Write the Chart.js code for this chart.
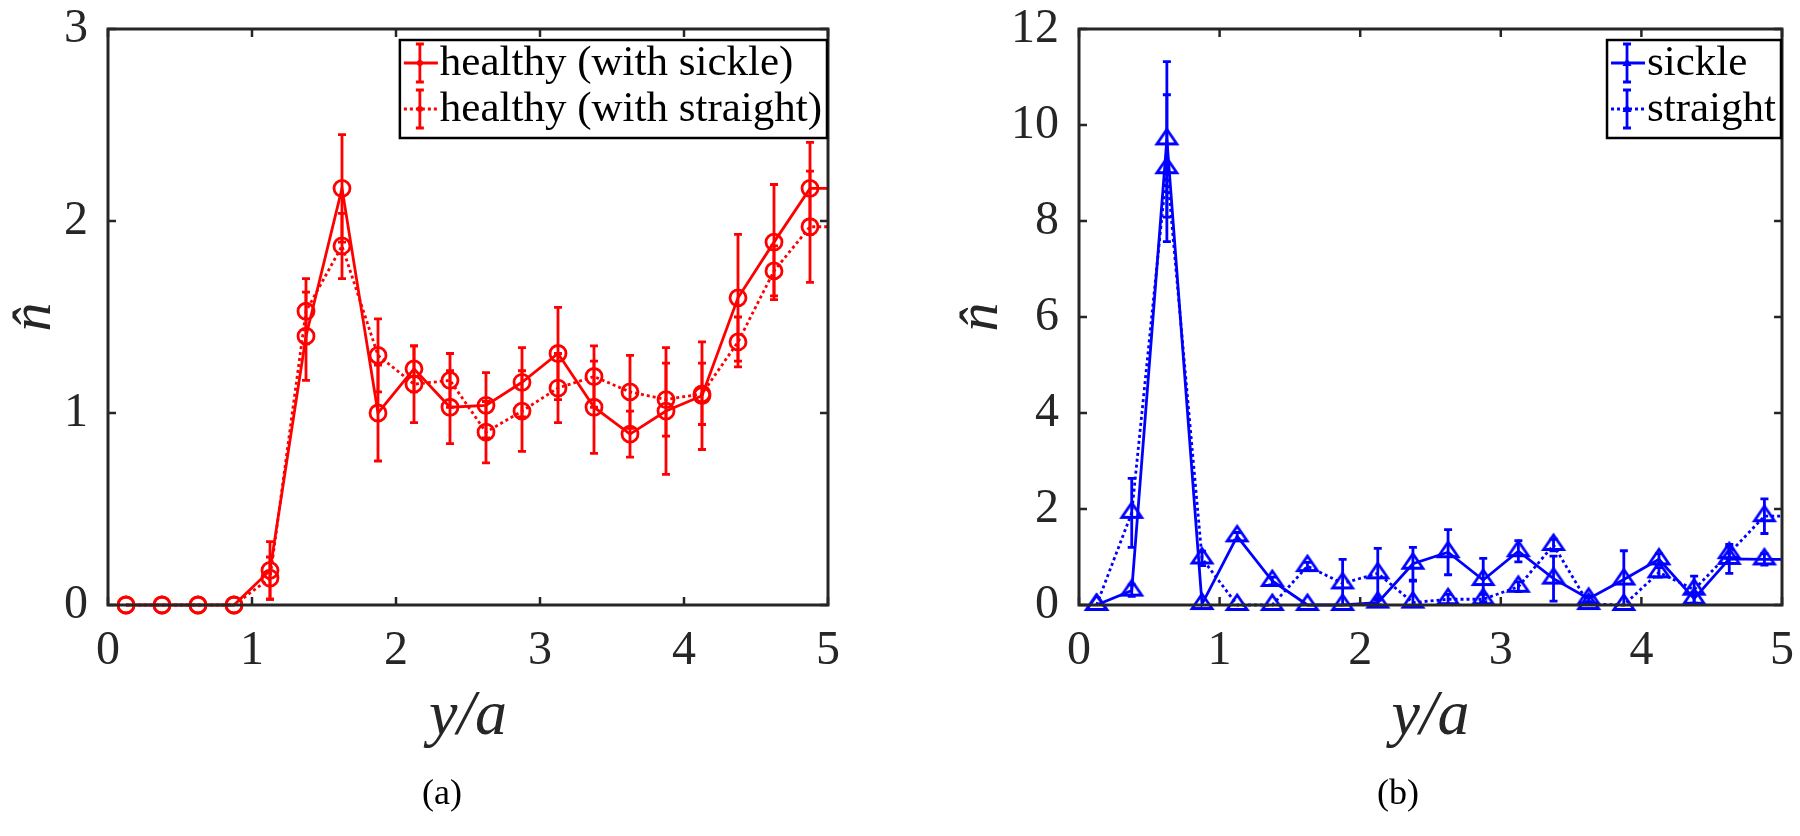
<!DOCTYPE html>
<html><head><meta charset="utf-8">
<script src="https://cdn.jsdelivr.net/npm/chart.js@4"></script>
<style>
html,body{margin:0;padding:0;background:#fff;overflow:hidden;width:1800px;height:836px}
.panel{position:absolute;top:0;width:900px;height:836px}
.cap{position:absolute;font-family:'Liberation Serif','Times New Roman',Times,serif;font-size:36px;line-height:40px;color:#000;transform:translateX(-50%);white-space:nowrap}
</style></head><body>
<div class="panel" style="left:0"><canvas id="c1"></canvas></div>
<div class="panel" style="left:900px"><canvas id="c2"></canvas></div>
<div class="cap" style="left:442px;top:772px">(a)</div>
<div class="cap" style="left:1398px;top:772px">(b)</div>
<script>
// ---- data ----
const yOverA = [0.125,0.375,0.625,0.875,1.125,1.375,1.625,1.875,2.125,2.375,2.625,2.875,3.125,3.375,3.625,3.875,4.125,4.375,4.625,4.875,5.125];
const healthySickle      = [0,0,0,0,0.18,1.40,2.17,1.00,1.23,1.03,1.04,1.16,1.31,1.03,0.89,1.01,1.09,1.60,1.89,2.17,2.17];
const healthySickleErr   = [0,0,0,0,0.15,0.23,0.28,0.25,0.12,0.19,0.17,0.18,0.24,0.24,0.12,0.33,0.28,0.33,0.30,0.24,0];
const healthyStraight    = [0,0,0,0,0.14,1.53,1.87,1.30,1.15,1.17,0.90,1.01,1.13,1.19,1.11,1.07,1.10,1.37,1.74,1.97,1.97];
const healthyStraightErr = [0,0,0,0,0.11,0.17,0.17,0.19,0.20,0.14,0.16,0.21,0.18,0.16,0.19,0.19,0.16,0.13,0.13,0.29,0];
const sickle      = [0,0.30,9.70,0.02,1.43,0.50,0,0,0.05,0.86,1.10,0.52,1.12,0.55,0.13,0.53,0.95,0.13,0.96,0.95,0.95];
const sickleErr   = [0,0.12,1.62,0,0.08,0.08,0,0,0.05,0.34,0.47,0.45,0.22,0.47,0.06,0.60,0.12,0.12,0.30,0.12,0];
const straight    = [0,1.92,9.10,0.97,0,0,0.81,0.45,0.66,0.05,0.12,0.12,0.38,1.25,0.02,0,0.68,0.32,1.08,1.85,1.85];
const straightErr = [0,0.72,1.53,0.15,0,0,0.08,0.50,0.52,0.45,0.10,0.10,0.10,0.12,0,0,0.10,0.28,0.12,0.36,0];
const xTicksMax = 5;
const leftYMax = 3, leftYStep = 1;
const rightYMax = 12, rightYStep = 2;
const legendA = ['healthy (with sickle)', 'healthy (with straight)'];
const legendB = ['sickle', 'straight'];

// ---- helpers ----
const AX = '#262626';
const FAM = "'Liberation Serif', 'Times New Roman', Times, serif";
const LW = 2.8;
const pts = (xs, ys) => xs.map((x, i) => ({x, y: ys[i]}));

function triImage(color) {
  const c = document.createElement('canvas'); c.width = 30; c.height = 30;
  const g = c.getContext('2d'); g.strokeStyle = color; g.lineWidth = LW; g.lineJoin = 'miter';
  g.beginPath(); g.moveTo(15, 15 - 10); g.lineTo(25, 19.5); g.lineTo(5, 19.5); g.closePath(); g.stroke();
  return c;
}

const errorBars = {
  id: 'errorBars',
  afterDatasetsDraw(chart) {
    const {ctx, chartArea: a, scales: {x, y}} = chart;
    ctx.save();
    ctx.beginPath(); ctx.rect(a.left, a.top, a.right - a.left, a.bottom - a.top); ctx.clip();
    chart.data.datasets.forEach(ds => {
      if (!ds.errors) return;
      ctx.strokeStyle = ds.borderColor; ctx.lineWidth = LW; ctx.setLineDash([]); ctx.lineCap = 'butt';
      ds.data.forEach((p, j) => {
        const e = ds.errors[j]; if (!e) return;
        const px = x.getPixelForValue(p.x);
        const y1 = y.getPixelForValue(p.y - e), y2 = y.getPixelForValue(p.y + e);
        const c = 4;
        ctx.beginPath();
        ctx.moveTo(px, y1); ctx.lineTo(px, y2);
        ctx.moveTo(px - c, y1); ctx.lineTo(px + c, y1);
        ctx.moveTo(px - c, y2); ctx.lineTo(px + c, y2);
        ctx.stroke();
      });
    });
    ctx.restore();
  }
};

const frame = {
  id: 'frame',
  afterDraw(chart) {
    const {ctx, chartArea: a, scales: {x, y}} = chart;
    ctx.save();
    ctx.strokeStyle = AX; ctx.lineWidth = 2.5; ctx.setLineDash([]);
    const L = 8;
    ctx.beginPath();
    x.ticks.forEach(t => {
      const px = x.getPixelForValue(t.value);
      ctx.moveTo(px, a.bottom); ctx.lineTo(px, a.bottom - L);
      ctx.moveTo(px, a.top); ctx.lineTo(px, a.top + L);
    });
    y.ticks.forEach(t => {
      const py = y.getPixelForValue(t.value);
      ctx.moveTo(a.left, py); ctx.lineTo(a.left + L, py);
      ctx.moveTo(a.right, py); ctx.lineTo(a.right - L, py);
    });
    ctx.stroke();
    ctx.lineWidth = 3;
    ctx.strokeRect(a.left, a.top, a.right - a.left, a.bottom - a.top);
    ctx.restore();
  }
};

function legendPlugin(labels, marker) {
  return {
    id: 'boxLegend',
    afterDraw(chart) {
      const {ctx, chartArea: a} = chart;
      const ds = chart.data.datasets;
      ctx.save();
      ctx.font = '43px ' + FAM;
      const tw = Math.max(...labels.map(l => ctx.measureText(l).width));
      const w = 40 + tw + 5, h = 98;
      const right = a.right - 1, left = right - w, top = a.top + 11;
      ctx.fillStyle = '#fff';
      ctx.fillRect(left, top, w, h);
      ctx.strokeStyle = '#000'; ctx.lineWidth = 2.5;
      ctx.strokeRect(left, top, w, h);
      labels.forEach((lab, i) => {
        const cy = top + 23 + i * 46;
        const col = ds[i].borderColor;
        ctx.strokeStyle = col; ctx.fillStyle = col; ctx.lineWidth = LW;
        ctx.setLineDash(ds[i].borderDash || []);
        ctx.beginPath(); ctx.moveTo(left + 4, cy); ctx.lineTo(left + 38, cy); ctx.stroke();
        ctx.setLineDash([]);
        const ex = left + 20;
        ctx.beginPath();
        ctx.moveTo(ex, cy - 19); ctx.lineTo(ex, cy + 19);
        ctx.moveTo(ex - 4, cy - 19); ctx.lineTo(ex + 4, cy - 19);
        ctx.moveTo(ex - 4, cy + 19); ctx.lineTo(ex + 4, cy + 19);
        ctx.stroke();
        ctx.beginPath();
        if (marker === 'circle') { ctx.arc(ex, cy, 3, 0, Math.PI * 2); }
        else { ctx.moveTo(ex, cy - 5); ctx.lineTo(ex + 4.5, cy + 3); ctx.lineTo(ex - 4.5, cy + 3); ctx.closePath(); }
        ctx.fill();
        ctx.fillStyle = '#000';
        ctx.textBaseline = 'middle'; ctx.textAlign = 'left';
        ctx.fillText(lab, left + 40, cy + 1);
      });
      ctx.restore();
    }
  };
}

function makeDataset(label, ys, errs, color, dotted, style, radius) {
  return {
    label, data: pts(yOverA, ys), errors: errs,
    borderColor: color, backgroundColor: 'rgba(0,0,0,0)',
    borderWidth: LW, borderDash: dotted ? [3, 3] : [],
    pointStyle: style, pointRadius: radius, pointHoverRadius: radius,
    pointBorderWidth: LW, pointBackgroundColor: 'rgba(0,0,0,0)', pointBorderColor: color,
    tension: 0, fill: false,
    clip: {left: false, top: false, right: 0, bottom: false}
  };
}

function makeChart(id, datasets, yMax, yStep, yWidth, padRight, yTitlePad, labels, marker) {
  return new Chart(document.getElementById(id), {
    type: 'line',
    data: {datasets},
    options: {
      responsive: true, maintainAspectRatio: false, animation: false,
      layout: {padding: {left: 0, top: 29, right: padRight, bottom: 0}},
      plugins: {legend: {display: false}, tooltip: {enabled: false}},
      scales: {
        x: {
          type: 'linear', min: 0, max: xTicksMax,
          grid: {display: false}, border: {display: false},
          ticks: {stepSize: 1, color: AX, padding: 0, font: {family: FAM, size: 48, lineHeight: 1.6}, maxRotation: 0},
          title: {display: true, text: 'y/a', color: AX, font: {family: FAM, size: 64, style: 'italic'}, padding: {top: 0, bottom: 80}},
          afterFit(s) { s.height = 231; }
        },
        y: {
          type: 'linear', min: 0, max: yMax,
          grid: {display: false}, border: {display: false},
          ticks: {stepSize: yStep, color: AX, padding: 12, font: {family: FAM, size: 48, lineHeight: 0.7}},
          title: {display: true, text: 'n\u0302', color: AX, font: {family: FAM, size: 58, style: 'italic'}, padding: {top: yTitlePad, bottom: 0}},
          afterFit(s) { s.width = yWidth; }
        }
      }
    },
    plugins: [errorBars, frame, legendPlugin(labels, marker)]
  });
}

Chart.defaults.font.family = FAM;

const charts = [
  makeChart('c1', [
    makeDataset(legendA[0], healthySickle, healthySickleErr, '#ff0000', false, 'circle', 8),
    makeDataset(legendA[1], healthyStraight, healthyStraightErr, '#ff0000', true, 'circle', 8)
  ], leftYMax, leftYStep, 108, 72, 0, legendA, 'circle'),
  makeChart('c2', [
    makeDataset(legendB[0], sickle, sickleErr, '#0000ff', false, triImage('#0000ff'), 10),
    makeDataset(legendB[1], straight, straightErr, '#0000ff', true, triImage('#0000ff'), 10)
  ], rightYMax, rightYStep, 179, 18, 47, legendB, 'triangle')
];
if (document.fonts && document.fonts.ready) document.fonts.ready.then(() => charts.forEach(c => c.update()));
</script>
</body></html>
